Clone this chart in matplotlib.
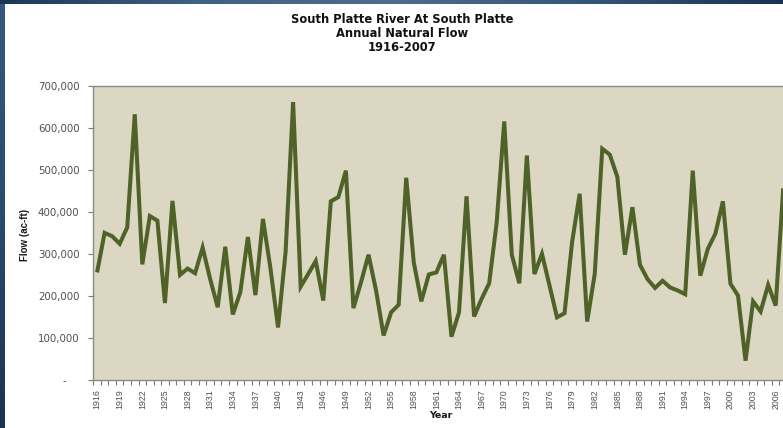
import numpy as np
import matplotlib
matplotlib.use("Agg")
import matplotlib.pyplot as plt
from matplotlib.colors import LinearSegmentedColormap
from matplotlib.ticker import FixedLocator, FuncFormatter

# Annual natural flow, South Platte River at South Platte (acre-feet)
years = list(range(1916, 2008))
flow = [
    256000, 350000, 342000, 324000, 363000, 632000, 275000, 390000, 379000, 183000,  # 1916-1925
    426000, 250000, 265000, 254000, 315000, 240000, 173000, 317000, 156000, 209000,  # 1926-1935
    340000, 202000, 383000, 265000, 125000, 304000, 661000, 222000, 252000, 283000,  # 1936-1945
    189000, 425000, 435000, 498000, 171000, 232000, 298000, 213000, 106000, 161000,  # 1946-1955
    179000, 481000, 280000, 187000, 251000, 256000, 298000, 103000, 161000, 437000,  # 1956-1965
    151000, 193000, 230000, 375000, 615000, 298000, 230000, 534000, 252000, 300000,  # 1966-1975
    225000, 149000, 159000, 328000, 443000, 139000, 252000, 550000, 536000, 483000,  # 1976-1985
    298000, 411000, 274000, 240000, 219000, 236000, 220000, 213000, 204000, 498000,  # 1986-1995
    248000, 312000, 348000, 425000, 229000, 201000, 46000, 187000, 163000, 226000,   # 1996-2005
    177000, 456000,                                                                  # 2006-2007
]
y_ticks = [0, 100000, 200000, 300000, 400000, 500000, 600000, 700000]
label_years = list(range(1916, 2007, 3))

title_text = "South Platte River At South Platte\nAnnual Natural Flow\n1916-2007"
x_label = "Year"
y_label = "Flow (ac-ft)"

W, H = 783, 428
fig = plt.figure(figsize=(W / 100, H / 100), dpi=100, facecolor="white")

# plot area in pixel units
left_px, right_px, top_px, bottom_px = 93.3, 787.0, 85.7, 380.0
ax = fig.add_axes([left_px / W, 1 - bottom_px / H,
                   (right_px - left_px) / W, (bottom_px - top_px) / H])
ax.set_facecolor("#DCD7C2")
ax.plot(years, flow, color="#4F6228", lw=2.9, solid_joinstyle="miter",
        solid_capstyle="butt", clip_on=True)

ax.set_xlim(years[0] - 0.5, years[-1] + 0.5)
ax.set_ylim(y_ticks[0], y_ticks[-1])

for side in ("left", "bottom", "top"):
    ax.spines[side].set_color("#8A8A8A")
    ax.spines[side].set_linewidth(1.0)
ax.spines["right"].set_visible(False)

# y axis
ax.yaxis.set_major_locator(FixedLocator(y_ticks))
ax.yaxis.set_major_formatter(FuncFormatter(lambda v, p: "-    " if v == 0 else f"{int(v):,}"))
ax.tick_params(axis="y", direction="out", length=3.5, width=0.8, color="#7A7A7A",
               pad=6.5, labelsize=7.4, labelcolor="#505050")
for lab in ax.get_yticklabels():
    lab.set_family("DejaVu Sans")

# x axis: labels on category centres, tick marks between categories
ax.xaxis.set_major_locator(FixedLocator(label_years))
ax.xaxis.set_minor_locator(FixedLocator(np.arange(years[0] - 0.5, years[-1] + 1.0, 1.0)))
ax.xaxis.set_major_formatter(FuncFormatter(lambda v, p: f"{int(round(v))}"))
ax.tick_params(axis="x", which="major", length=0, pad=6.5, labelsize=6.3,
               labelcolor="#505050", labelrotation=90)
ax.tick_params(axis="x", which="minor", direction="out", length=3.5, width=0.8,
               color="#7A7A7A")
for lab in ax.get_xticklabels():
    lab.set_family("Liberation Sans")
    lab.set_va("top")

# titles and axis labels
fig.text(402 / W, 1 - 33.5 / H, title_text, ha="center", va="center",
         fontsize=8.3, fontweight="bold", family="DejaVu Sans", color="#111111",
         linespacing=1.08)
fig.text(441 / W, 1 - 415 / H, x_label, ha="center", va="center",
         fontsize=6.8, fontweight="bold", family="DejaVu Sans", color="#1A1A1A")
fig.text(25 / W, 1 - 235 / H, y_label, ha="center", va="center", rotation=90,
         fontsize=7.0, fontweight="bold", family="Liberation Sans", color="#1A1A1A")

# dark blue frame along the left and top edges
frame_v = LinearSegmentedColormap.from_list("fv", ["#35597F", "#2A4A6E", "#1B3352"])
frame_h = LinearSegmentedColormap.from_list("fh", ["#1C3756", "#3F6185", "#4F6E8C",
                                                   "#34567A", "#1A3353"])
band_l = fig.add_axes([0, 0, 5.0 / W, 1])
band_l.imshow(np.linspace(0, 1, 256).reshape(-1, 1), aspect="auto", cmap=frame_v)
band_l.axis("off")
band_t = fig.add_axes([0, 1 - 4.0 / H, 1, 4.0 / H])
band_t.imshow(np.linspace(0, 1, 256).reshape(1, -1), aspect="auto", cmap=frame_h)
band_t.axis("off")

fig.savefig("out.png", dpi=100, facecolor="white")
